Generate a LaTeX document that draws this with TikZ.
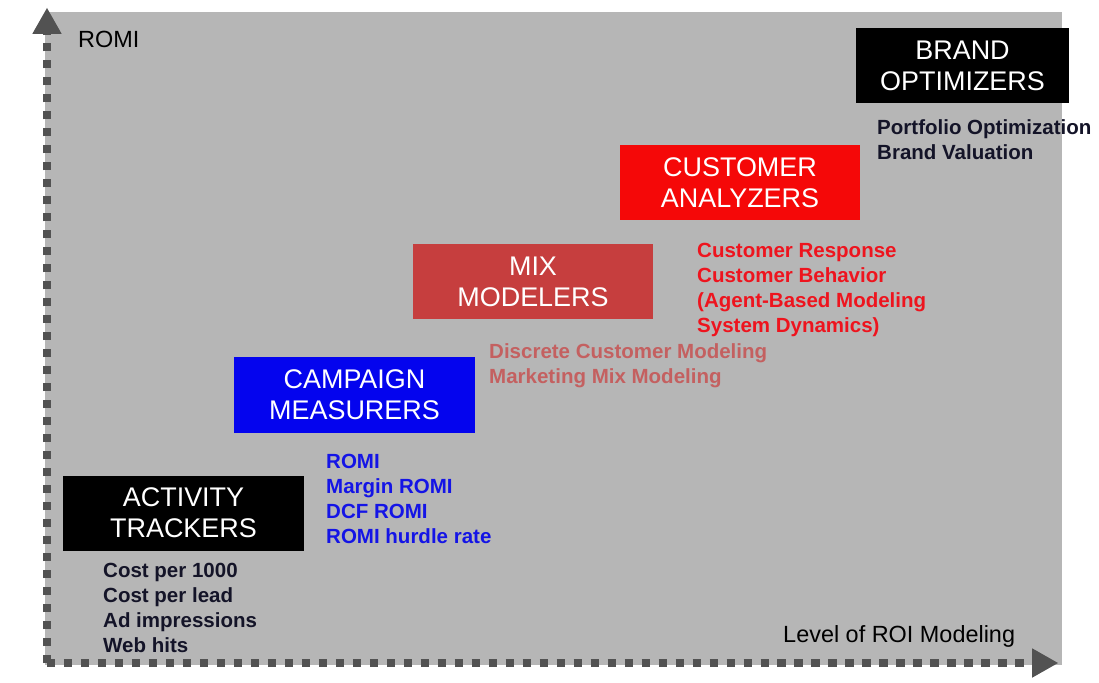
\documentclass[tikz,border=0pt]{standalone}
\usepackage{fontspec}
\setmainfont{Liberation Sans}
\usetikzlibrary{arrows.meta,positioning}
\definecolor{panelgray}{RGB}{182,182,182}
\definecolor{axisgray}{RGB}{82,82,82}
\definecolor{custred}{RGB}{245,8,8}
\definecolor{mixred}{RGB}{198,62,62}
\definecolor{campblue}{RGB}{4,4,238}
\definecolor{navytext}{RGB}{20,20,40}
\definecolor{mixtext}{RGB}{196,96,96}
\definecolor{custtext}{RGB}{238,20,30}
\definecolor{camptext}{RGB}{20,20,230}
\tikzstyle{stage}=[text=white, align=center, inner sep=0pt, minimum
width=7.2cm, minimum height=2.25cm, font=\fontsize{23}{26.5}\selectfont]
\tikzstyle{items}=[anchor=north west, align=left, inner sep=0pt,
  font=\fontsize{17.5}{21.3}\selectfont\bfseries]
\tikzstyle{axis}=[axisgray, line width=7pt, dash pattern=on 7pt off 7.5pt,
  -{Triangle[length=22pt,width=25pt,line width=0pt]}]
\tikzstyle{axislabel}=[inner sep=0pt, anchor=base west,
  font=\fontsize{20}{24}\selectfont]

\begin{document}
\begin{tikzpicture}[x=0.03cm, y=-0.03cm]
  \useasboundingbox (0,0) rectangle (1099,683);
  \fill[panelgray] (45,12) rectangle (1062,665);

  % axes
  \coordinate (o)    at (47,663);
  \coordinate (ytip) at (47,8);
  \coordinate (xtip) at (1058,663);
  \draw[axis] (o) -- (ytip);
  \draw[axis] (o) -- (xtip);
  \node[axislabel] (ylab) at (78,48)   {ROMI};
  \node[axislabel] (xlab) at (783,642) {Level of ROI Modeling};

  % the five stages
  \node[stage, fill=black]    (act)   at (183.5,513) {ACTIVITY\\TRACKERS};
  \node[stage, fill=campblue] (camp)  at (354.5,395) {CAMPAIGN\\MEASURERS};
  \node[stage, fill=mixred]   (mix)   at (533,281.5) {MIX\\MODELERS};
  \node[stage, fill=custred]  (cust)  at (740,182.5) {CUSTOMER\\ANALYZERS};
  \node[stage, fill=black, minimum width=6.4cm]
                              (brand) at (962.5,65.5) {BRAND\\OPTIMIZERS};

  % metrics under each stage
  \node[items, text=navytext] (actlist)   at (103,563)
    {Cost per 1000\\Cost per lead\\Ad impressions\\Web hits};
  \node[items, text=camptext] (camplist)  at (326,454)
    {ROMI\\Margin ROMI\\DCF ROMI\\ROMI hurdle rate};
  \node[items, text=mixtext]  (mixlist)   at (489,343)
    {Discrete Customer Modeling\\Marketing Mix Modeling};
  \node[items, text=custtext] (custlist)  at (697,243)
    {Customer Response\\Customer Behavior\\(Agent-Based Modeling\\System Dynamics)};
  \node[items, text=navytext] (brandlist) at (877,119)
    {Portfolio Optimization\\Brand Valuation};
\end{tikzpicture}
\end{document}
